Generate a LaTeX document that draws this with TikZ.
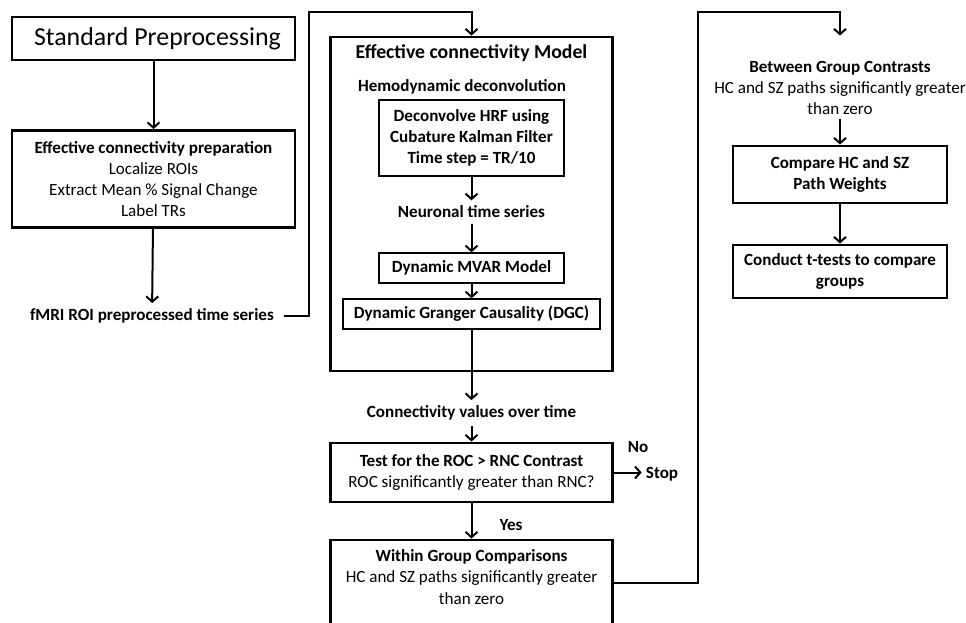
\documentclass[tikz,border=0pt]{standalone}
\usepackage{fontspec}
\setmainfont{Carlito}
\usetikzlibrary{arrows.meta}

\begin{document}
\begin{tikzpicture}[x=0.75pt,y=-0.75pt,
    >={Straight Barb[length=4pt,width=9pt]},
    every node/.style={align=center,inner sep=1pt,font=\fontsize{12.8}{15.9}\selectfont},
    flow/.style={line width=1.5pt},
    btxt/.style={font=\bfseries\fontsize{12.8}{15.9}\selectfont},
    lbl/.style={btxt,inner ysep=4pt,inner xsep=3pt},
    bigbox/.style={draw,line width=2.2pt,inner sep=0pt},
    smallbox/.style={draw,line width=1.1pt,inner sep=0pt}]
  \useasboundingbox (0,0) rectangle (966,622);
  \clip (0,0) rectangle (966,622);

  \node[bigbox,minimum width=212.25pt,minimum height=32.25pt,font=\fontsize{19.4}{24}\selectfont] (std) at (153.5,38.5) {\hspace*{6pt}Standard Preprocessing};
  \node[bigbox,minimum width=212.25pt,minimum height=72.75pt] (prep) at (153.5,179) {\textbf{Effective connectivity preparation}\\Localize ROIs\\Extract Mean \% Signal Change\\Label TRs};
  \node[lbl] (fmri) at (152,316) {fMRI ROI preprocessed time series};
  \coordinate (c1) at (309,12);

  \node[bigbox,minimum width=211.5pt,minimum height=250.5pt] (model) at (471.5,204) {};
  \node[font=\bfseries\fontsize{14.8}{18}\selectfont] (mtitle) at (471.5,53) {Effective connectivity Model};
  \node[btxt] (hemo) at (462,87) {Hemodynamic deconvolution};
  \node[smallbox,btxt,minimum width=138.75pt,minimum height=57pt] (deconv) at (471.5,138) {Deconvolve HRF using\\Cubature Kalman Filter\\Time step = TR/10};
  \node[lbl] (neuro) at (471.5,212) {Neuronal time series};
  \node[smallbox,btxt,minimum width=138.75pt,minimum height=22.5pt] (mvar) at (471.5,268) {Dynamic MVAR Model};
  \node[smallbox,btxt,minimum width=192.75pt,minimum height=22.5pt] (dgc) at (471.5,314) {Dynamic Granger Causality (DGC)};
  \node[lbl] (connval) at (471.5,413) {Connectivity values over time};
  \node[bigbox,minimum width=211.5pt,minimum height=44.25pt] (test) at (471.5,472.5) {\textbf{Test for the ROC > RNC Contrast}\\ROC significantly greater than RNC?};
  \node[btxt] (no) at (638,447) {No};
  \node[lbl] (stop) at (662,474) {Stop};
  \node[btxt] (yes) at (511,525) {Yes};
  \node[bigbox,minimum width=211.5pt,minimum height=64.5pt] (within) at (471.5,583) {};
  \node (withintxt) at (471.5,577) {\textbf{Within Group Comparisons}\\HC and SZ paths significantly greater\\than zero};
  \coordinate (c2) at (698,12);

  \node[inner ysep=3pt] (between) at (840,88) {\textbf{Between Group Contrasts}\\HC and SZ paths significantly greater\\than zero};
  \node[bigbox,btxt,minimum width=160.5pt,minimum height=42.75pt] (compare) at (840,174.5) {Compare HC and SZ\\Path Weights};
  \node[bigbox,btxt,minimum width=160.5pt,minimum height=39.75pt] (conduct) at (840,271.5) {Conduct t-tests to compare\\groups};

  \draw[flow,->] (std) -- (prep);
  \draw[flow,->] (prep) -- (fmri);
  \draw[flow,->,shorten <=4pt] (fmri.east) -| (c1) -| (model.north);
  \draw[flow,->] (deconv) -- (neuro);
  \draw[flow,->] (neuro) -- (mvar);
  \draw[flow,->] (mvar) -- (dgc);
  \draw[flow,->] (dgc) -- (connval);
  \draw[flow,->] (connval) -- (test);
  \draw[flow,->] (test.east) -- (test.east -| stop.west);
  \draw[flow,->] (test) -- (within);
  \draw[flow,->,shorten >=16pt] (within.east) -| (c2) -| (between.north);
  \draw[flow,->] (between) -- (compare);
  \draw[flow,->] (compare) -- (conduct);
\end{tikzpicture}
\end{document}
